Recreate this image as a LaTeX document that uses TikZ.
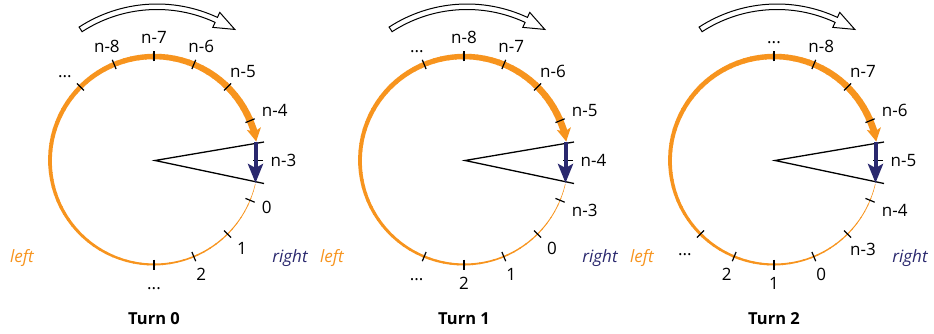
\documentclass[tikz,border=0pt]{standalone}
\usepackage{fontspec}
\setmainfont{Open Sans}
\usetikzlibrary{arrows.meta,calc}
\definecolor{orng}{RGB}{247,148,30}
\definecolor{navy}{RGB}{42,40,110}
\newcommand\tdots{...}
\begin{document}
\begin{tikzpicture}[x=1pt,y=1pt,
  lbl/.style={font=\fontsize{17}{20}\selectfont, inner sep=1.5pt, text height=12pt, text depth=0pt},
  tickmark/.style={line width=1.2pt, black},
  wedge/.style={line width=1.3pt, black, line join=miter},
  turnlbl/.style={font=\fontsize{16.5}{19}\selectfont\bfseries},
  sidelbl/.style={font=\fontsize{17}{19}\selectfont\itshape},
  bigarrow/.style={fill=white, draw=black, line width=1pt, line join=miter}]
\path[use as bounding box] (0,0) rectangle (934,-334);
\foreach \k in {0,1,2}{
\begin{scope}[shift={(154+310*\k,-160.5)}]
  % tapered orange arc
  \foreach \j in {0,...,80}{
    \pgfmathsetmacro\sa{-13-4*\j}
    \pgfmathsetmacro\ea{\sa-4.6}
    \pgfmathsetmacro\w{0.5+6.3*\j/80}
    \draw[orng, line width=\w pt] (\sa:104) arc[start angle=\sa, end angle=\ea, radius=104];
  }
  \draw[orng, line width=6.8pt, -{Stealth[length=13pt,width=14pt,inset=3pt]}] (24:104) arc[start angle=24,end angle=10.5,radius=104];
  % ticks and labels
  \foreach \t [count=\i from 0] in {\tdots,n-8,n-7,n-6,n-5,n-4,n-3,0,1,2,\tdots}{
    \pgfmathsetmacro\ang{135-22.5*\k-22.5*\i}
    \pgfmathsetmacro\anc{\ang+180}
    \draw[tickmark] (\ang:99) -- (\ang:109);
    \node[lbl, anchor=\anc] (l\k-\i) at (\ang:115) {\t};
  }
  % wedge
  \coordinate (apex\k) at (1,0);
  \coordinate (wu\k) at (110,18.5);
  \coordinate (wl\k) at (110,-23);
  \draw[wedge] (wu\k) -- (apex\k) -- (wl\k);
  % navy arrow
  \coordinate (na\k) at (101.5,18);
  \coordinate (nb\k) at (101.5,-22.5);
  \draw[navy, line width=4pt, -{Stealth[length=19pt,width=15pt,inset=4pt]}] (na\k) -- (nb\k);
  % top double arrow
  \coordinate (C\k) at (3,13.5);
  \draw[bigarrow] ($(C\k)+(123:143)$) arc[start angle=123,end angle=65,radius=143]
     -- ($(C\k)+(65:148.5)$) -- ($(C\k)+(56.5:141)$) -- ($(C\k)+(65:132)$)
     -- ($(C\k)+(65:137.5)$) arc[start angle=65,end angle=123,radius=137.5] -- cycle;
  % side labels
  \node[sidelbl, text=orng] (left\k) at (-132,-98) {left};
  \node[sidelbl, text=navy] (right\k) at (136,-98) {right};
  \node[turnlbl] (turn\k) at (0,-158) {Turn \k};
\end{scope}
}
\end{tikzpicture}
\end{document}
